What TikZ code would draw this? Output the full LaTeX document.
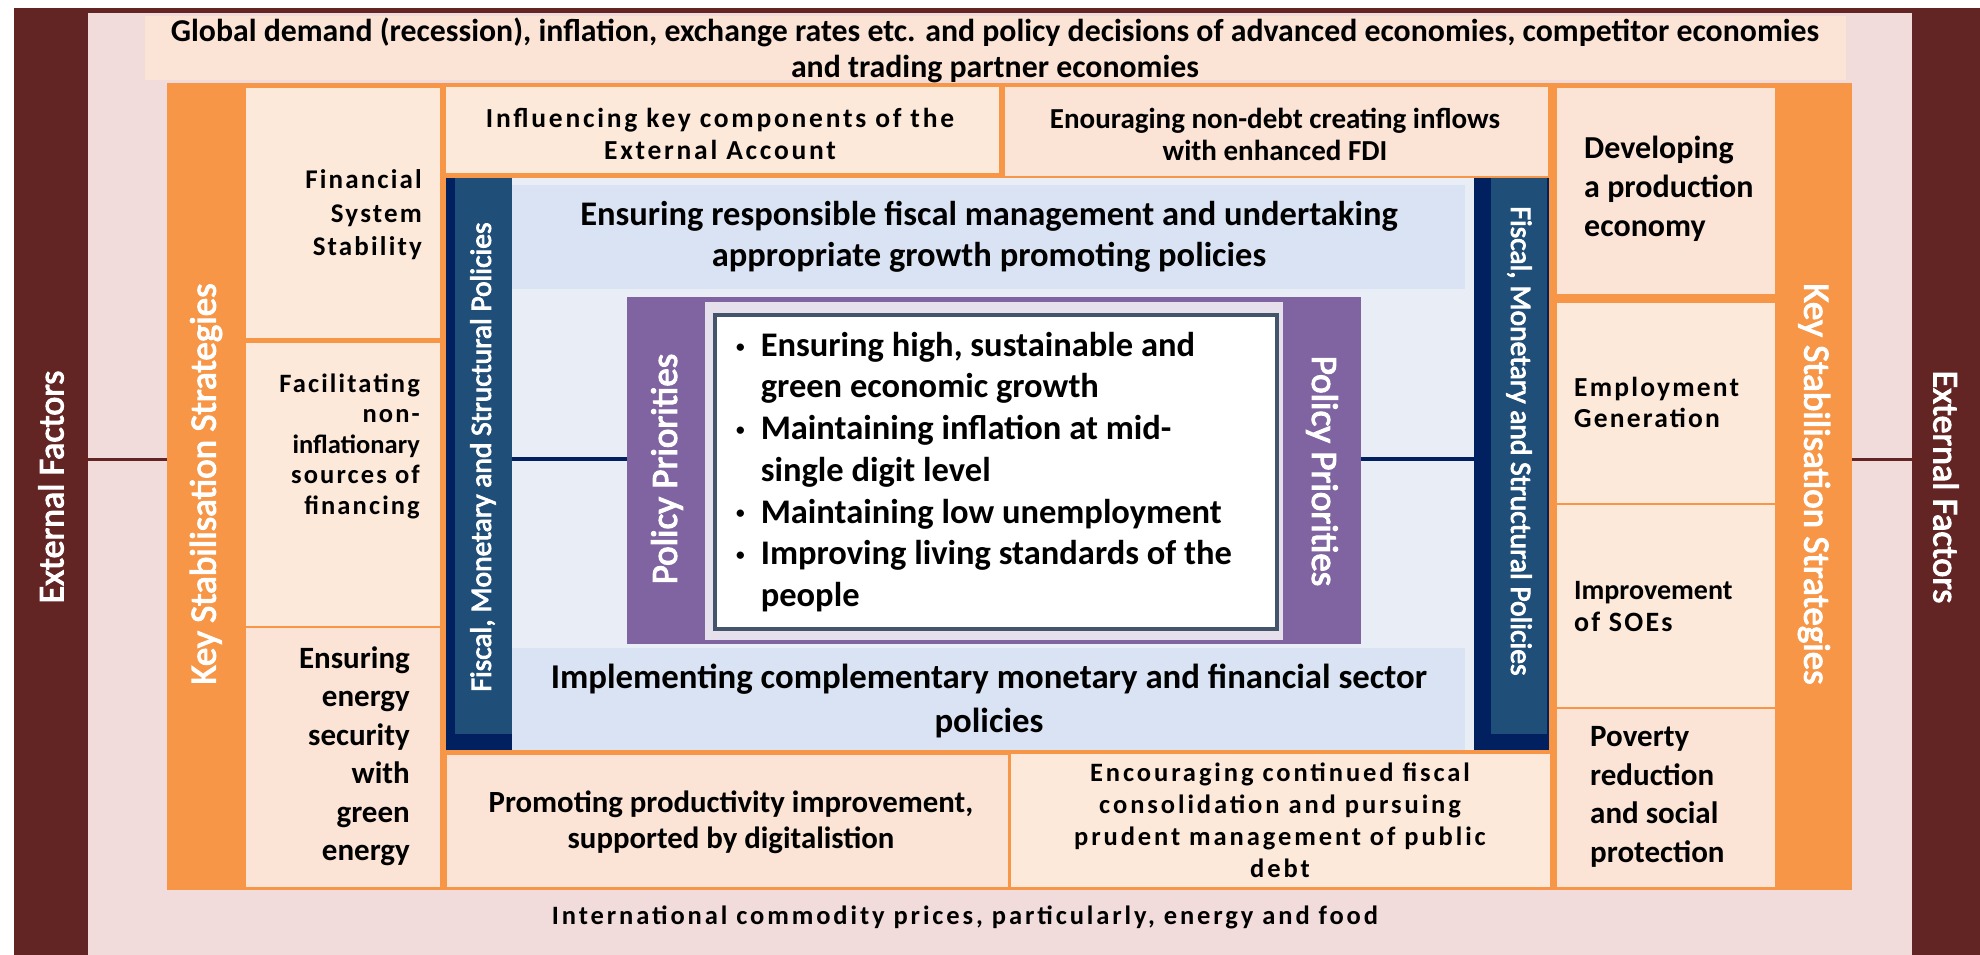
\documentclass[tikz,border=0pt]{standalone}
\usepackage{fontspec}
\setmainfont{Carlito}
\newfontfamily\widefont[LetterSpace=8]{Carlito}
\newfontfamily\widerfont[LetterSpace=11]{Carlito}
\newfontfamily\midfont[LetterSpace=10]{Carlito}
\newfontfamily\heavyfont[FakeBold=3]{Carlito}
\usetikzlibrary{fit}
\definecolor{darkred}{HTML}{632523}
\definecolor{pinkbg}{HTML}{F2DCDB}
\definecolor{peach}{HTML}{FDE9D9}
\definecolor{peachd}{HTML}{FBE4D5}
\definecolor{ksorange}{HTML}{F79646}
\definecolor{navy}{HTML}{002060}
\definecolor{fmsblue}{HTML}{1F4E79}
\definecolor{lightbg}{HTML}{E9EDF5}
\definecolor{bandblue}{HTML}{DAE3F3}
\definecolor{ppurple}{HTML}{8064A2}
\definecolor{lavender}{HTML}{E5E0EC}
\definecolor{slate}{HTML}{44546A}
\newcommand{\setfs}[2]{\fontsize{#1}{#2}\selectfont}
\newcommand{\pbullet}{\raisebox{0.12em}{\scalebox{0.5}{\textbullet}}}
\tikzstyle{bar} = [fill=darkred, inner sep=0pt]
\tikzstyle{back} = [fill=pinkbg, inner sep=0pt]
\tikzstyle{strip} = [fill=ksorange, inner sep=0pt]
\tikzstyle{box} = [fill=peach, draw=ksorange, line width=1.5pt, inner sep=0pt]
\tikzstyle{boxd} = [box, fill=peachd]
\tikzstyle{col} = [fill=navy, inner sep=0pt]
\tikzstyle{coli} = [fill=fmsblue, inner sep=0pt]
\tikzstyle{band} = [fill=bandblue, inner sep=0pt]
\tikzstyle{txt} = [inner sep=0pt, align=center, font=\bfseries]
\tikzstyle{vtxt} = [inner sep=0pt, text=white]
\tikzstyle{link} = [line width=3pt]

\begin{document}
\begin{tikzpicture}[x=1pt, y=-1pt]
\useasboundingbox (0,0) rectangle (1980,955);
\node [bar, fit={(14,8) (1980,955)}] (outer) {};
\node [back, fit={(88,13) (1912,955)}] (inner) {};
\node [back, fill=peachd, fit={(145,16) (1846,80)}] (glob) {};
\node [strip, fit={(167,83) (1852,890)}] (ks) {};

\node [box, fit={(245,87) (441,339)}] (fin) {};
\node [box, fit={(245,342) (441,627)}] (fac) {};
\node [boxd, fit={(245,627) (441,888)}] (ene) {};
\node [boxd, fit={(1556,87) (1776,295)}] (dev) {};
\node [box, fit={(1556,302) (1776,504)}] (emp) {};
\node [box, fit={(1556,504) (1776,708)}] (imp) {};
\node [boxd, fit={(1556,708) (1776,888)}] (pov) {};
\node [box, fit={(445,86) (1000,174)}] (infl) {};
\node [boxd, fit={(1004,86) (1549,177)}] (enour) {};
\node [boxd, fit={(446,754) (1009,888)}] (promo) {};
\node [box, fit={(1010,753) (1551,888)}] (encour) {};

\node [back, fill=lightbg, fit={(512,178) (1474,750)}] (midbg) {};
\node [col, fit={(446,178) (512,750)}] (fmsL) {};
\node [coli, fit={(455,178) (512,734)}] (fmsLi) {};
\node [col, fit={(1474,178) (1549,750)}] (fmsR) {};
\node [coli, fit={(1491,178) (1547,734)}] (fmsRi) {};
\node [band, fit={(512,185) (1465,289)}] (bandT) {};
\node [band, fit={(512,648) (1465,750)}] (bandB) {};
\node [back, fill=ppurple, fit={(627,297) (1361,644)}] (pp) {};
\node [back, fill=lavender, fit={(705,302) (1283,640)}] (lav) {};
\node [fill=white, draw=slate, line width=4pt, inner sep=0pt, fit={(715,315) (1277,629)}] (wbox) {};

\coordinate (mid) at (0,459);
\draw [link, darkred] (inner.west |- mid) -- (ks.west |- mid);
\draw [link, darkred] (ks.east |- mid) -- (inner.east |- mid);
\draw [link, navy, line width=4pt] (fmsL.east |- mid) -- (pp.west |- mid);
\draw [link, navy, line width=4pt] (pp.east |- mid) -- (fmsR.west |- mid);

\node [vtxt, rotate=90, font=\heavyfont\setfs{36}{40}] (extL) at (51,487) {External Factors};
\node [vtxt, rotate=-90, font=\heavyfont\setfs{36}{40}] (extR) at (1946,487) {External Factors};
\node [vtxt, rotate=90, font=\heavyfont\setfs{37}{40}] (ksL) at (206,484) {Key Stabilisation Strategies};
\node [vtxt, rotate=-90, font=\heavyfont\setfs{37}{40}] (ksR) at (1814,484) {Key Stabilisation Strategies};
\node [vtxt, rotate=90, font=\heavyfont\setfs{29.5}{32}] (fmsLt) at (483,457) {Fiscal, Monetary and Structural Policies};
\node [vtxt, rotate=-90, font=\heavyfont\setfs{29.5}{32}] (fmsRt) at (1519,441) {Fiscal, Monetary and Structural Policies};
\node [vtxt, rotate=90, font=\heavyfont\setfs{37}{40}] (ppL) at (667,469) {Policy Priorities};
\node [vtxt, rotate=-90, font=\heavyfont\setfs{37}{40}] (ppR) at (1322,471) {Policy Priorities};

\node [txt, font=\bfseries\setfs{31.8}{36}] (globt) at (995,50) {Global demand (recession), inflation, exchange rates etc. and policy decisions of advanced economies, competitor economies\\and trading partner economies};
\node [txt, font=\midfont\bfseries\setfs{27.5}{32}] (inflt) at (720,134) {Influencing key components of the\\External Account};
\node [txt, font=\bfseries\setfs{29}{32}] (enourt) at (1275,134) {Enouraging non-debt creating inflows\\with enhanced FDI};
\node [txt, font=\bfseries\setfs{34.5}{41}] (bandTt) at (989,237) {Ensuring responsible fiscal management and undertaking\\appropriate growth promoting policies};
\node [txt, font=\bfseries\setfs{34.8}{44}] (bandBt) at (989,701) {Implementing complementary monetary and financial sector\\policies};
\node [txt, font=\bfseries\setfs{30.8}{36}] (promot) at (731,822) {Promoting productivity improvement,\\supported by digitalistion};
\node [txt, font=\widerfont\bfseries\setfs{26.5}{32}] (encourt) at (1280,820) {Encouraging continued fiscal\\consolidation and pursuing\\prudent management of public\\debt};
\node [txt, font=\widerfont\bfseries\setfs{26.5}{30}] (intl) at (965,917) {International commodity prices, particularly, energy and food};

\node [txt, align=right, anchor=east, font=\widefont\bfseries\setfs{27}{33.5}] (fint) at (422,215) {Financial\\System\\Stability};
\node [txt, align=right, anchor=east, font=\widefont\bfseries\setfs{26.5}{30.5}] (fact) at (420,446) {Facilitating\\non-\\{\rmfamily\bfseries inflationary}\\sources of\\financing};
\node [txt, align=right, anchor=east, font=\bfseries\setfs{31}{38.5}] (enet) at (410,756) {Ensuring\\energy\\security\\with\\green\\energy};
\node [txt, align=left, anchor=west, font=\bfseries\setfs{32}{39}] (devt) at (1584,189) {Developing\\a production\\economy};
\node [txt, align=left, anchor=west, font=\widefont\bfseries\setfs{27.5}{31}] (empt) at (1574,402) {Employment\\Generation};
\node [txt, align=left, anchor=west, font=\bfseries\setfs{28}{32}] (impt) at (1574,607) {Improvement\\{\widefont\bfseries of SOEs}};
\node [txt, align=left, anchor=west, font=\bfseries\setfs{31}{38.5}] (povt) at (1590,797) {Poverty\\reduction\\and social\\protection};

\node [txt, align=left, anchor=west, font=\bfseries\setfs{34.5}{41.7}] (prio) at (736,473) {\begin{tabular}{@{}l@{\hspace{16pt}}l@{}}
\pbullet & Ensuring high, sustainable and\\
 & green economic growth\\
\pbullet & Maintaining inflation at mid-\\
 & single digit level\\
\pbullet & Maintaining low unemployment\\
\pbullet & Improving living standards of the\\
 & people
\end{tabular}};
\end{tikzpicture}
\end{document}
